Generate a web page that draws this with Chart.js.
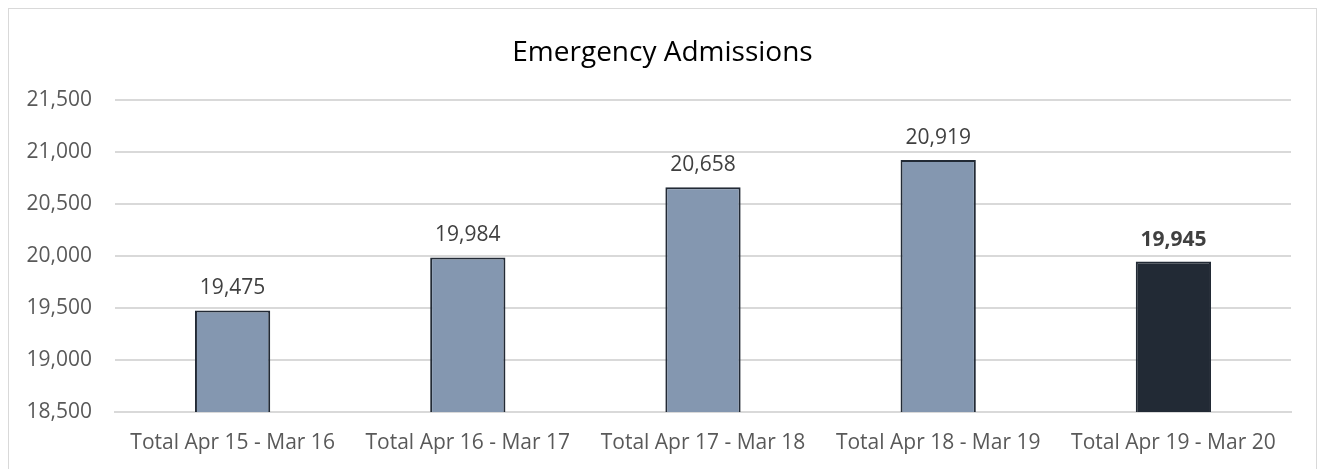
<!DOCTYPE html>
<html>
<head>
<meta charset="utf-8">
<script src="https://cdn.jsdelivr.net/npm/chart.js@4"></script>
<style>
  html, body { margin: 0; padding: 0; background: #fff; }
  #box {
    position: absolute; left: 8px; top: 8px; width: 1309px; height: 470px;
    border: 1px solid #d9d9d9; border-bottom: none; box-sizing: border-box;
  }
  #wrap { position: absolute; left: 0; top: 0; width: 1307px; height: 461px; }
</style>
</head>
<body>
<div id="box"><div id="wrap"><canvas id="bar-chart"></canvas></div></div>
<script>
// data
var categories = ["Total Apr 15 - Mar 16", "Total Apr 16 - Mar 17", "Total Apr 17 - Mar 18", "Total Apr 18 - Mar 19", "Total Apr 19 - Mar 20"];
var admissions = [19475, 19984, 20658, 20919, 19945];
var yTicks = [18500, 19000, 19500, 20000, 20500, 21000, 21500];

var fontFam = "'Open Sans', 'Liberation Sans', sans-serif";
var fillColors = ["#8497B0", "#8497B0", "#8497B0", "#8497B0", "#222A35"];

// draws the value over each bar, last one in bold
var valueLabels = {
    id: "valueLabels",
    afterDatasetsDraw: function (chart) {
        var ctx = chart.ctx;
        var meta = chart.getDatasetMeta(0);
        ctx.save();
        ctx.fillStyle = "#404040";
        ctx.textAlign = "center";
        ctx.textBaseline = "alphabetic";
        meta.data.forEach(function (bar, i) {
            var last = i === admissions.length - 1;
            ctx.font = (last ? "bold " : "") + "21px " + fontFam;
            ctx.fillText(admissions[i].toLocaleString("en-US"), bar.x, bar.y - 16);
        });
        ctx.restore();
    }
};

new Chart(document.getElementById("bar-chart"), {
    type: "bar",
    data: {
        labels: categories,
        datasets: [{
            label: "Emergency Admissions",
            data: admissions,
            backgroundColor: fillColors,
            borderColor: "#222A35",
            borderWidth: 2,
            barPercentage: 0.32,
            categoryPercentage: 1
        }]
    },
    options: {
        responsive: true,
        maintainAspectRatio: false,
        animation: false,
        layout: { padding: 0 },
        plugins: {
            legend: { display: false },
            tooltip: { enabled: false },
            title: {
                display: true,
                text: "Emergency Admissions",
                color: "#000",
                font: { family: fontFam, size: 28, weight: "normal" },
                padding: { top: 27, bottom: 30 }
            }
        },
        scales: {
            x: {
                grid: { display: false },
                border: { color: "#d9d9d9", width: 2 },
                ticks: {
                    color: "#595959",
                    font: { family: fontFam, size: 21 },
                    padding: 10,
                    maxRotation: 0
                },
                afterFit: function (scale) { scale.height = 58; }
            },
            y: {
                min: yTicks[0],
                max: yTicks[yTicks.length - 1],
                afterBuildTicks: function (scale) {
                    scale.ticks = yTicks.map(function (v) { return { value: v }; });
                },
                grid: { color: "#d9d9d9", lineWidth: 2, drawTicks: false },
                border: { display: false },
                ticks: {
                    color: "#595959",
                    font: { family: fontFam, size: 21 },
                    padding: 23,
                    callback: function (v) { return Number(v).toLocaleString("en-US"); }
                },
                afterFit: function (scale) { scale.width = 106; }
            },
            // empty right axis, only keeps a margin so the title stays centred
            yRight: {
                position: "right",
                min: yTicks[0],
                max: yTicks[yTicks.length - 1],
                grid: { display: false },
                border: { display: false },
                ticks: { display: false },
                afterFit: function (scale) { scale.width = 25; }
            }
        }
    },
    plugins: [valueLabels]
});
</script>
</body>
</html>
